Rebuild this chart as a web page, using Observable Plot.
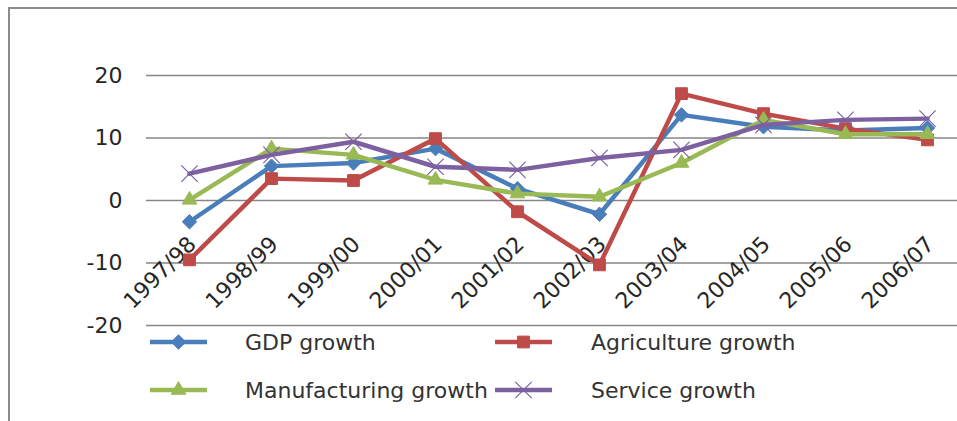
<!DOCTYPE html>
<html>
<head>
<meta charset="utf-8">
<script src="https://cdn.jsdelivr.net/npm/d3@7"></script>
<script src="https://cdn.jsdelivr.net/npm/@observablehq/plot@0.6"></script>
<style>
  html, body { margin: 0; padding: 0; background: #fff; }
  #wrap { position: relative; width: 957px; height: 421px; overflow: hidden; font-family: "DejaVu Sans", sans-serif; }
  #frame { position: absolute; left: 8px; top: 7px; width: 1000px; height: 500px; border-top: 2px solid #8a8a8a; border-left: 2px solid #8a8a8a; pointer-events: none; }
  #chart { position: absolute; left: 0; top: 0; }
  #legend { position: absolute; left: 150px; top: 318px; display: grid; grid-template-columns: 57px 38px 250px 57px 39px auto; grid-auto-rows: 48px; align-items: center; font-size: 22px; color: #333; }
  #legend span { white-space: nowrap; }
</style>
</head>
<body>
<div id="wrap">
  <div id="chart"></div>
  <div id="legend"></div>
  <div id="frame"></div>
</div>
<script>
const categories = ["1997/98","1998/99","1999/00","2000/01","2001/02","2002/03","2003/04","2004/05","2005/06","2006/07"];
const gdpGrowth = [-3.4, 5.5, 6.0, 8.3, 1.9, -2.2, 13.7, 11.8, 11.2, 11.6];
const agricultureGrowth = [-9.5, 3.5, 3.2, 9.9, -1.8, -10.3, 17.1, 13.9, 11.5, 9.7];
const manufacturingGrowth = [0.1, 8.3, 7.3, 3.3, 1.1, 0.6, 6.0, 12.9, 10.6, 10.6];
const serviceGrowth = [4.3, 7.3, 9.4, 5.4, 4.9, 6.8, 8.1, 12.1, 12.9, 13.1];
const seriesNames = ["GDP growth", "Agriculture growth", "Manufacturing growth", "Service growth"];
const seriesColors = ["#4A7EBB", "#BE4B48", "#98B954", "#7D60A0"];
const seriesSymbols = ["diamond2", "square2", "triangle2", "times"];
const yTicks = [-20, -10, 0, 10, 20];

const seriesValues = [gdpGrowth, agricultureGrowth, manufacturingGrowth, serviceGrowth];
const rows = [];
seriesNames.forEach((s, i) => categories.forEach((c, j) => rows.push({series: s, category: c, value: seriesValues[i][j]})));

const markR = {"GDP growth": 6.5, "Agriculture growth": 7.5, "Manufacturing growth": 7, "Service growth": 7.5};

const seriesMarks = seriesNames.flatMap((s, i) => {
  const d = rows.filter(r => r.series === s);
  return [
    Plot.line(d, {x: "category", y: "value", stroke: seriesColors[i], strokeWidth: 4.5, strokeLinejoin: "round"}),
    Plot.dot(d, {x: "category", y: "value", symbol: () => seriesSymbols[i], r: markR[s],
      ...(seriesSymbols[i] === "times" ? {stroke: seriesColors[i], strokeWidth: 1.2, fill: "none"} : {fill: seriesColors[i], stroke: seriesColors[i], strokeWidth: 1})})
  ];
});

const chart = Plot.plot({
  width: 957,
  height: 345,
  marginLeft: 146,
  marginRight: 0,
  marginTop: 75,
  marginBottom: 20,
  style: {fontFamily: "DejaVu Sans, sans-serif", background: "transparent"},
  x: {type: "point", domain: categories, range: [187.5, 929], padding: 0, axis: null},
  y: {domain: [-20, 20], axis: null},
  symbol: {type: "identity"},
  marks: [
    Plot.ruleY(yTicks, {stroke: "#868686", strokeWidth: 1.5}),
    Plot.axisY(yTicks, {tickSize: 0, tickPadding: 24, fontSize: 22, fill: "#262626", label: null, tickFormat: d => String(d)}),
    Plot.text(categories, {x: d => d, y: () => 0, text: d => d, rotate: -45, textAnchor: "end", dx: 3, dy: 40, fontSize: 22, fill: "#262626"}),
    ...seriesMarks
  ]
});
document.getElementById("chart").appendChild(chart);

// Legend
const legend = d3.select("#legend");
const symMap = {diamond2: d3.symbolDiamond2, square2: d3.symbolSquare2, triangle2: d3.symbolTriangle2, times: d3.symbolTimes};
[0, 1, 2, 3].forEach((i) => {
  const sw = legend.append("svg").attr("width", 57).attr("height", 24);
  sw.append("line").attr("x1", 0).attr("x2", 57).attr("y1", 12).attr("y2", 12)
    .attr("stroke", seriesColors[i]).attr("stroke-width", 4.5);
  const r = markR[seriesNames[i]];
  const p = sw.append("path").attr("transform", "translate(28.5,12)")
    .attr("d", d3.symbol(symMap[seriesSymbols[i]], Math.PI * r * r)());
  if (seriesSymbols[i] === "times") p.attr("fill", "none").attr("stroke", seriesColors[i]).attr("stroke-width", 1.2);
  else p.attr("fill", seriesColors[i]).attr("stroke", seriesColors[i]);
  legend.append("div");
  legend.append("span").text(seriesNames[i]);
});
</script>
</body>
</html>
